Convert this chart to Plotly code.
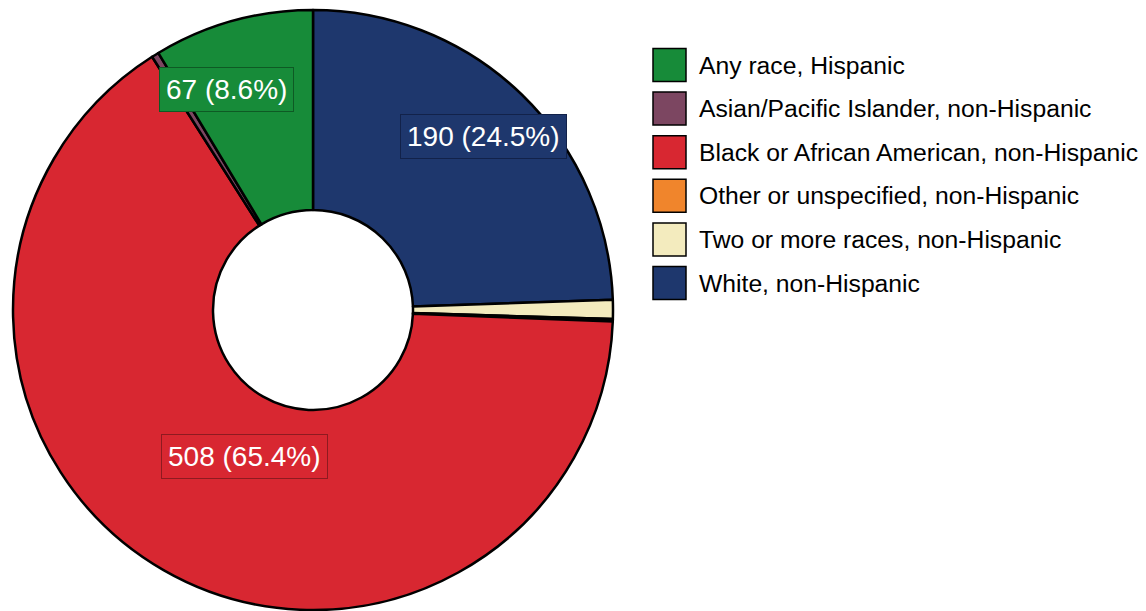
import math
import plotly.graph_objects as go

categories = [
    "Any race, Hispanic",
    "Asian/Pacific Islander, non-Hispanic",
    "Black or African American, non-Hispanic",
    "Other or unspecified, non-Hispanic",
    "Two or more races, non-Hispanic",
    "White, non-Hispanic",
]
counts = [67, 3, 508, 1, 8, 190]
colors = ["#178B39", "#7C4661", "#D82731", "#F0852C", "#F3EBBE", "#1E376D"]
label_border = ["#0E5A24", "#4E2C3D", "#8E1A20", "#9A561D", "#9A9578", "#12224A"]
labelled = [0, 2, 5]

W, H = 1146, 611
cx, cy, R = 313, 310, 300
label_r = {0: 0.79, 2: 0.54, 5: 0.81}
label_nudge = {0: 6.0, 2: 5.0, 5: -0.5}

# pie drawn clockwise from 12 o'clock, last category first
fig = go.Figure(go.Pie(
    labels=categories[::-1], values=counts[::-1], sort=False, direction="clockwise",
    rotation=0, hole=1/3, textinfo="none", hoverinfo="label+value+percent",
    marker=dict(colors=colors[::-1], line=dict(color="black", width=2.5)),
    domain=dict(x=[(cx - R) / W, (cx + R) / W], y=[(H - cy - R) / H, (H - cy + R) / H]),
    showlegend=False,
))

total = sum(counts)
cum = 0
annotations = []
for i, v in enumerate(counts):
    mid = (cum + v / 2) / total
    cum += v
    if i not in labelled:
        continue
    ang = math.radians(mid * 360 + label_nudge[i])  # ccw from top
    px = cx - R * label_r[i] * math.sin(ang)
    py = cy - R * label_r[i] * math.cos(ang)
    pct = 100 * v / total
    annotations.append(dict(
        x=px / W, y=1 - py / H, xref="paper", yref="paper",
        text=f"{v} ({pct:.1f}%)", showarrow=False,
        font=dict(family="Liberation Sans, Arial", size=28, color="white"),
        bgcolor=colors[i], bordercolor=label_border[i], borderwidth=1, borderpad=6,
        xanchor="center", yanchor="middle",
    ))

shapes = []
for i, name in enumerate(categories):
    yc = 65 + i * 43.6
    shapes.append(dict(
        type="rect", xref="paper", yref="paper",
        x0=653 / W, x1=686 / W, y0=1 - (yc + 16.5) / H, y1=1 - (yc - 16.5) / H,
        fillcolor=colors[i], line=dict(color="black", width=1.5),
    ))
    annotations.append(dict(
        x=697 / W, y=1 - yc / H, xref="paper", yref="paper", text=name,
        showarrow=False, xanchor="left", yanchor="middle",
        font=dict(family="Liberation Sans, Arial", size=24.7, color="black"),
    ))

fig.update_layout(
    width=W, height=H, margin=dict(l=0, r=0, t=0, b=0),
    paper_bgcolor="white", plot_bgcolor="white",
    annotations=annotations, shapes=shapes,
)
fig.write_html("out.html", post_script="document.body.style.margin='0px';",
               config={"displayModeBar": False})
